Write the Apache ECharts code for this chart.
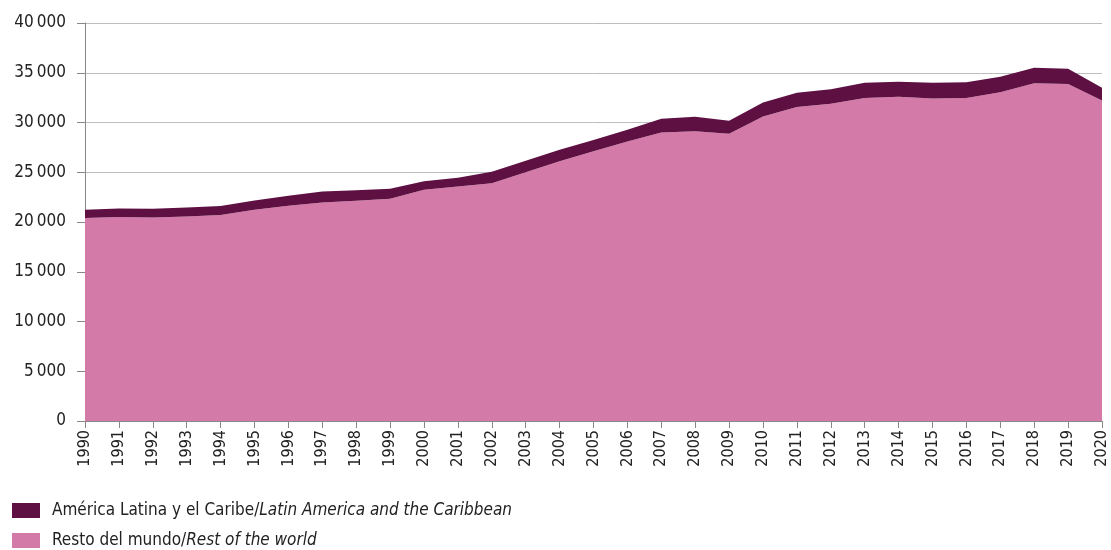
<!DOCTYPE html>
<html><head><meta charset="utf-8">
<script src="https://cdn.jsdelivr.net/npm/echarts@6/dist/echarts.min.js"></script>
<style>html,body{margin:0;padding:0;background:#fff}#c{width:1111px;height:550px}</style>
</head><body><div id="c"></div>
<script>
const years = ['1990','1991','1992','1993','1994','1995','1996','1997','1998','1999','2000','2001','2002','2003','2004','2005','2006','2007','2008','2009','2010','2011','2012','2013','2014','2015','2016','2017','2018','2019','2020'];
// Total (top of stack) and rest of world
const total = [21230,21360,21330,21450,21600,22160,22630,23070,23200,23350,24100,24450,25050,26150,27250,28250,29270,30370,30570,30170,32000,33000,33350,34000,34100,34000,34050,34600,35500,35400,33500];
const restOfWorld = [20390,20490,20450,20560,20700,21230,21630,21960,22130,22330,23240,23580,23900,25000,26100,27100,28100,29000,29130,28860,30600,31550,31880,32450,32600,32400,32450,33050,33950,33880,32210];
const latam = total.map((t,i)=>t-restOfWorld[i]);
const yTicks = {min:0,max:40000,interval:5000};

const FONT = '"DejaVu Sans Condensed","Liberation Sans Narrow",sans-serif';
const chart = echarts.init(document.getElementById('c'));
chart.setOption({
  animation:false,
  grid:{left:85,right:9,top:23,bottom:129},
  legend:{
    orient:'vertical',left:12,top:502,bottom:0,padding:0,itemWidth:28,itemHeight:15,itemGap:13,
    icon:'rect',
    data:['latam','rest'],
    formatter:function(n){
      return n==='latam' ? '{n|América Latina y el Caribe/}{i|Latin America and the Caribbean}' : '{n|Resto del mundo/}{i|Rest of the world}';
    },
    textStyle:{rich:{
      n:{fontFamily:FONT,fontSize:17,color:'#222',padding:[0,0,0,7]},
      i:{fontFamily:FONT,fontSize:17,color:'#222',fontStyle:'italic'}
    }}
  },
  xAxis:{
    type:'category',data:years,boundaryGap:false,
    axisLine:{lineStyle:{color:'#888',width:1}},
    axisTick:{show:true,length:7,lineStyle:{color:'#888'},alignWithLabel:true},
    axisLabel:{rotate:90,interval:0,margin:9,fontFamily:FONT,fontSize:16,color:'#222'}
  },
  yAxis:{
    type:'value',min:yTicks.min,max:yTicks.max,interval:yTicks.interval,
    axisLine:{show:true,lineStyle:{color:'#888',width:1}},
    axisTick:{show:true,length:8,lineStyle:{color:'#888'}},
    splitLine:{show:true,lineStyle:{color:'#bdbdbd',width:1}},
    axisLabel:{margin:19,fontFamily:FONT,fontSize:17,color:'#222',
      formatter:v=>String(v).replace(/\B(?=(\d{3})+(?!\d))/g,'\u2009')}
  },
  series:[
    {name:'rest',type:'line',stack:'t',data:restOfWorld,symbol:'none',
     lineStyle:{width:0},areaStyle:{color:'#d47aa8',opacity:1},itemStyle:{color:'#d47aa8'},z:2},
    {name:'latam',type:'line',stack:'t',data:latam,symbol:'none',
     lineStyle:{width:0},areaStyle:{color:'#5e1042',opacity:1},itemStyle:{color:'#5e1042'},z:2}
  ]
});
</script></body></html>
